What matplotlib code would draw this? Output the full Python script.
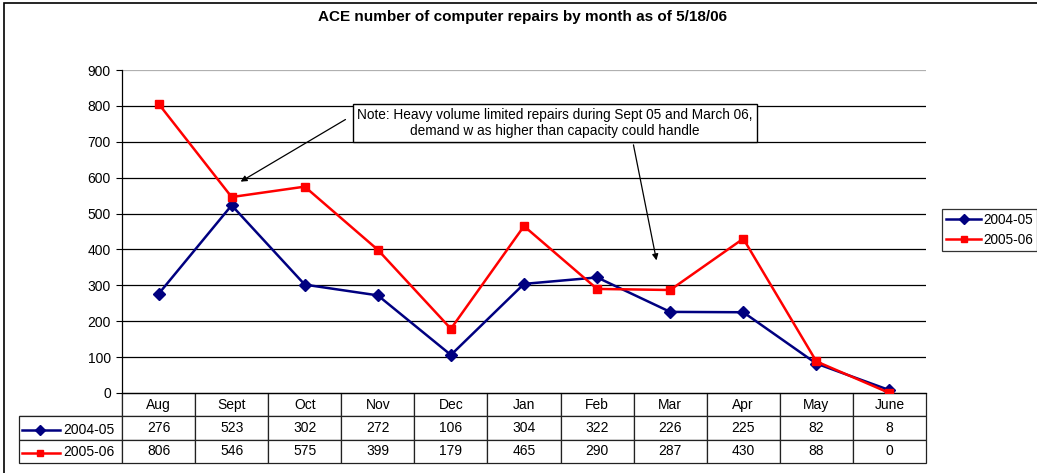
import matplotlib
matplotlib.use('Agg')
import matplotlib.pyplot as plt
from matplotlib.patches import Rectangle

plt.rcParams['font.family'] = ['Liberation Sans', 'DejaVu Sans']

months = ['Aug', 'Sept', 'Oct', 'Nov', 'Dec', 'Jan', 'Feb', 'Mar', 'Apr', 'May', 'June']
s0405 = [276, 523, 302, 272, 106, 304, 322, 226, 225, 82, 8]
s0506 = [806, 546, 575, 399, 179, 465, 290, 287, 430, 88, 0]
series_names = ['2004-05', '2005-06']
yticks = [0, 100, 200, 300, 400, 500, 600, 700, 800, 900]
note = 'Note: Heavy volume limited repairs during Sept 05 and March 06,\ndemand w as higher than capacity could handle'

W, H = 1037, 473
fig = plt.figure(figsize=(W / 100, H / 100), dpi=100)
ax = fig.add_axes([122 / W, 1 - 393 / H, (926 - 122) / W, (393 - 70) / H])

# outer chart border
fig.patches.append(Rectangle((4 / W, -0.05), 1.1, 1 - 3 / H + 0.05, transform=fig.transFigure,
                             fill=False, edgecolor='black', linewidth=1.2))

x = list(range(len(months)))
ax.plot(x, s0405, color='#000080', marker='D', markersize=6, linewidth=1.8, zorder=4)
ax.plot(x, s0506, color='#FF0000', marker='s', markersize=6, linewidth=1.8, zorder=5)

ax.set_xlim(-0.5, len(months) - 0.5)
ax.set_ylim(0, 900)
ax.set_yticks(yticks)
ax.set_yticklabels([str(v) for v in yticks], fontsize=10)
ax.tick_params(axis='y', length=4, width=0.8, pad=4)
ax.set_xticks([])
for v in yticks[1:-1]:
    ax.axhline(v, color='black', linewidth=0.9, zorder=1)
ax.axhline(900, color='#b0b0b0', linewidth=0.9, zorder=1)
for s in ['top', 'right']:
    ax.spines[s].set_visible(False)
ax.spines['left'].set_linewidth(0.9)
ax.spines['bottom'].set_linewidth(0.9)

ax.set_title('ACE number of computer repairs by month as of 5/18/06', fontsize=11,
             fontweight='bold', x=(523 - 122) / 804, y=1 + (70 - 25) / 323, va='center')

# data table under the plot
cells = [[''] + months,
         [''] + [str(v) for v in s0405],
         [''] + [str(v) for v in s0506]]
lab_w = 103 / 804
col_w = [lab_w] + [1 / len(months)] * len(months)
tab = ax.table(cellText=cells, colWidths=col_w, cellLoc='center',
               bbox=[-lab_w, -(463 - 393) / 323, 1 + lab_w, (463 - 393) / 323])
tab.auto_set_font_size(False)
tab.set_fontsize(10)
for (r, c), cell in tab.get_celld().items():
    cell.set_linewidth(0.9)
    cell.set_edgecolor('#222222')
tab[0, 0].visible_edges = 'BR'
tab[0, 0].set_edgecolor('#222222')

row_y = [-(429.5 - 393) / 323, -(452.5 - 393) / 323]
colors = ['#000080', '#FF0000']
mks = ['D', 's']
for ry, col, mk, name in zip(row_y, colors, mks, series_names):
    ax.plot([-(122 - 22) / 804, -(122 - 60) / 804], [ry, ry], color=col, linewidth=1.8,
            transform=ax.transAxes, clip_on=False)
    ax.plot([-(122 - 40) / 804], [ry], color=col, marker=mk, markersize=5,
            transform=ax.transAxes, clip_on=False)
    ax.text(-(122 - 115) / 804, ry, name, fontsize=10, ha='right', va='center',
            transform=ax.transAxes)

# note box with two arrows
ax.text(5.42, 752, note, fontsize=9.8, ha='center', va='center', linespacing=1.2,
        bbox=dict(boxstyle='square,pad=0.3', facecolor='white', edgecolor='black', linewidth=1),
        zorder=6)
ax.annotate('', xy=(1.09, 585), xytext=(2.59, 766),
            arrowprops=dict(arrowstyle='-|>', color='black', linewidth=0.9, mutation_scale=9))
ax.annotate('', xy=(6.82, 362), xytext=(6.49, 699),
            arrowprops=dict(arrowstyle='-|>', color='black', linewidth=0.9, mutation_scale=9))

# legend at the right edge
handles = ax.get_lines()[:2]
leg = fig.legend(handles, series_names, loc='upper left', bbox_to_anchor=(942 / W, 1 - 209 / H),
                 fontsize=9.8, frameon=True, fancybox=False, edgecolor='black', handlelength=2.6,
                 borderpad=0.3, labelspacing=0.45, handletextpad=0.15, borderaxespad=0)
leg.get_frame().set_linewidth(0.9)
for h in leg.legend_handles:
    h.set_markersize(5)

plt.savefig('out.png', dpi=100)
